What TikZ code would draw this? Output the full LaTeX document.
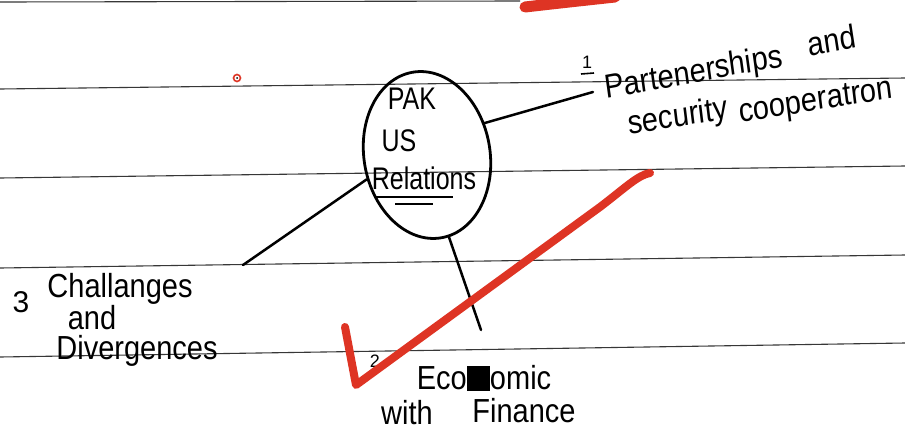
\documentclass[tikz,border=0pt]{standalone}
\usepackage{fontspec}
\setmainfont{Liberation Sans}
\usetikzlibrary{shapes.geometric}
\definecolor{redpen}{RGB}{222,52,36}
\definecolor{ruleink}{RGB}{55,55,55}
\begin{document}
\begin{tikzpicture}[x=1pt,y=-1pt,
  hand/.style={font=\fontsize{29}{31}\selectfont, inner sep=0pt, yscale=1.15},
  inner/.style={font=\fontsize{25}{27}\selectfont, inner sep=0pt, yscale=1.25},
  digit/.style={font=\fontsize{18}{20}\selectfont, inner sep=0pt},
  ruleline/.style={draw=ruleink, line width=1.1pt},
  pen/.style={line width=2.5pt, line cap=round},
  redstroke/.style={draw=redpen, line cap=round, line join=round}]
\useasboundingbox (0,0) rectangle (905,434);
\begin{scope}
\clip (0,0) rectangle (905,434);
\fill[white] (0,0) rectangle (905,434);
% ruled lines
\draw[ruleline] (0,2) -- (520,1);
\draw[ruleline] (0,89) -- (905,78);
\draw[ruleline] (0,178) -- (905,166);
\draw[ruleline] (0,268) -- (905,255);
\draw[ruleline] (0,357) -- (905,343);
% top red stroke
\draw[redstroke, line width=11pt] (525,7) .. controls (560,3) .. (615,-3);
% small red mark
\draw[redpen, line width=1.6pt] (237,78) circle[radius=3.5];
\fill[black] (237,78) circle[radius=1];
\end{scope}
% central ellipse
\node[draw, ellipse, line width=2.8pt, minimum width=126pt, minimum height=168pt,
      rotate=10, inner sep=0pt] (e) at (427,155) {};
\node[inner] (pak) at (412,99) {PAK};
\node[inner] (us) at (399,141) {US};
\node[inner] (rel) at (424,178) {Relations};
\draw[line width=2pt] (375,197) -- (453,197);
\draw[line width=2pt] (395,204) -- (433,204);
% branch 1
\node[digit] (n1) at (587,62) {1};
\draw[line width=1.6pt] (581,74) -- (594,73);
\node[hand, rotate=9] (p1a) at (694,74) {Partenerships};
\node[hand, rotate=10] (p1b) at (832,40) {and};
\node[hand, rotate=8] (p2a) at (678,118) {security};
\node[hand, rotate=8] (p2b) at (816,103) {cooperatron};
\coordinate (rEnd) at (593,92);
\draw[pen] (e.19) -- (rEnd);
% branch 3
\node[font=\fontsize{30}{32}\selectfont, inner sep=0pt] (n3) at (21,302) {3};
\node[hand] (c1) at (120,289) {Challanges};
\node[hand] (c2) at (92,318) {and};
\node[hand] (c3) at (137,351) {Divergences};
\coordinate (lEnd) at (243,265);
\draw[pen] (e.192) -- (lEnd);
% branch 2
\node[digit] (n2) at (375,361) {2};
\node[hand] (ec) at (484,378) {Eco\rule[-0.05em]{0.8em}{0.75em}omic};
\node[hand] (w) at (407,413) {with};
\node[hand] (f) at (524,411) {Finance};
\coordinate (bEnd) at (481,330);
\draw[pen] (e.275) -- (bEnd);
% red check mark
\draw[redstroke, line width=8pt] (345,327) -- (356,385) -- (600,207)
  .. controls (625,188) and (638,175) .. (650,173);
\end{tikzpicture}
\end{document}
